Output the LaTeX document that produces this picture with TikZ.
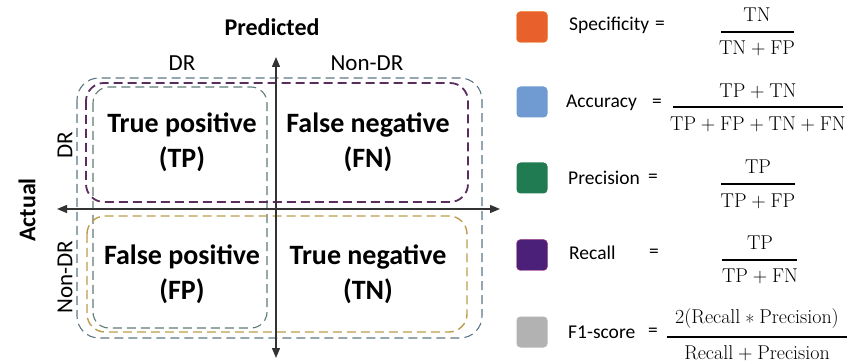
\documentclass[tikz,border=0pt]{standalone}
\usepackage{fontspec}
\setsansfont{Carlito}
\usetikzlibrary{arrows.meta}
\newcommand\plsgn{\hspace{0.24em}+\hspace{0.24em}}
\newcommand\mulsgn{\hspace{0.24em}\raisebox{-0.28em}{*}\hspace{0.24em}}
\definecolor{cacc}{HTML}{5E7686}
\definecolor{crec}{HTML}{5A2D5E}
\definecolor{cpre}{HTML}{5F7B74}
\definecolor{cspe}{HTML}{BC9C4A}
\definecolor{sqorange}{HTML}{E8612C}
\definecolor{sqblue}{HTML}{6F9AD2}
\definecolor{sqgreen}{HTML}{207A52}
\definecolor{sqpurple}{HTML}{4A2078}
\definecolor{sqgrey}{HTML}{B2B2B2}
\tikzset{
  x=1pt,y=-1pt,
  region/.style={dash pattern=on 9pt off 5pt, line width=1.1pt, rounded corners=22pt},
  axis/.style={line width=1.3pt, draw=black!80, {Triangle[length=10pt,width=8pt]}-{Triangle[length=10pt,width=8pt]}},
  cell/.style={font=\sffamily\bfseries\fontsize{28}{35}\selectfont, align=center, inner sep=0pt},
  axlab/.style={font=\sffamily\fontsize{23}{27}\selectfont, inner sep=0pt},
  title/.style={font=\sffamily\bfseries\fontsize{24}{28}\selectfont, inner sep=0pt},
  sq/.style={minimum width=31pt, minimum height=31pt, rounded corners=4pt, inner sep=0pt},
  mname/.style={font=\sffamily\fontsize{19.5}{23}\selectfont, anchor=west, inner sep=0pt},
  frac/.style={font=\rmfamily\fontsize{20}{24}\selectfont, inner sep=0pt},
  bar/.style={line width=1.6pt}
}
\begin{document}
\begin{tikzpicture}
\useasboundingbox (0,0) rectangle (851,363);
% regions
\draw[region, cacc] (77,78) rectangle (482,338);
\draw[region, cpre, rounded corners=16pt] (93,87) rectangle (267,328);
\draw[region, cspe, line width=1.4pt, rounded corners=18pt] (87,216) rectangle (467,332);
\draw[region, crec, line width=1.8pt, rounded corners=18pt] (86,83) rectangle (468,202);
% axes
\coordinate (hl) at (57,209);
\coordinate (hr) at (500,209);
\coordinate (vt) at (276,57);
\coordinate (vb) at (276,358);
\draw[axis] (hl) -- (hr);
\draw[axis] (vt) -- (vb);
% labels
\node[title] (pred) at (272,27) {Predicted};
\node[title, rotate=90] (act) at (27,210) {Actual};
\node[axlab] (pdr) at (182,63) {DR};
\node[axlab] (pndr) at (367,63) {Non-DR};
\node[axlab, rotate=90] (adr) at (65,145) {DR};
\node[axlab, rotate=90] (andr) at (65,277) {Non-DR};
% cells
\node[cell] (tp) at (182,142) {True positive\\(TP)};
\node[cell] (fn) at (368,142) {False negative\\(FN)};
\node[cell] (fp) at (182,274) {False positive\\(FP)};
\node[cell] (tn) at (368,274) {True negative\\(TN)};
% legend squares
\node[sq, fill=sqorange, draw=sqorange!80!yellow] (s1) at (532,27) {};
\node[sq, fill=sqblue] (s2) at (532,102) {};
\node[sq, fill=sqgreen] (s3) at (532,178) {};
\node[sq, fill=sqpurple, draw=magenta!60!sqpurple] (s4) at (532,255) {};
\node[sq, fill=sqgrey] (s5) at (532,332) {};
% metric names
\node[mname] (n1) at (569,25) {Specificity};
\node[mname] (e1) at (655,25) {=};
\node[mname] (n2) at (566,103) {Accuracy};
\node[mname] (e2) at (652,103) {=};
\node[mname] (n3) at (568,178) {Precision};
\node[mname] (e3) at (648,178) {=};
\node[mname] (n4) at (569,253) {Recall};
\node[mname] (e4) at (649,253) {=};
\node[mname] (n5) at (568,332) {F1-score};
\node[mname] (e5) at (648,332) {=};
% fractions
\node[frac] (f1n) at (757,15) {TN};
\draw[bar] (721,32) -- (794,32);
\node[frac] (f1d) at (757,48) {TN\plsgn FP};
\node[frac] (f2n) at (758,91) {TP\plsgn TN};
\draw[bar] (673,107) -- (843,107);
\node[frac] (f2d) at (758,124) {TP\plsgn FP\plsgn TN\plsgn FN};
\node[frac] (f3n) at (758,167) {TP};
\draw[bar] (721,184) -- (795,184);
\node[frac] (f3d) at (758,201) {TP\plsgn FP};
\node[frac] (f4n) at (760,243) {TP};
\draw[bar] (722,260) -- (797,260);
\node[frac] (f4d) at (760,276) {TP\plsgn FN};
\node[frac] (f5n) at (757,319) {2(Recall\mulsgn Precision)};
\draw[bar] (667,337) -- (847,337);
\node[frac] (f5d) at (757,353) {Recall\plsgn Precision};
\end{tikzpicture}
\end{document}
